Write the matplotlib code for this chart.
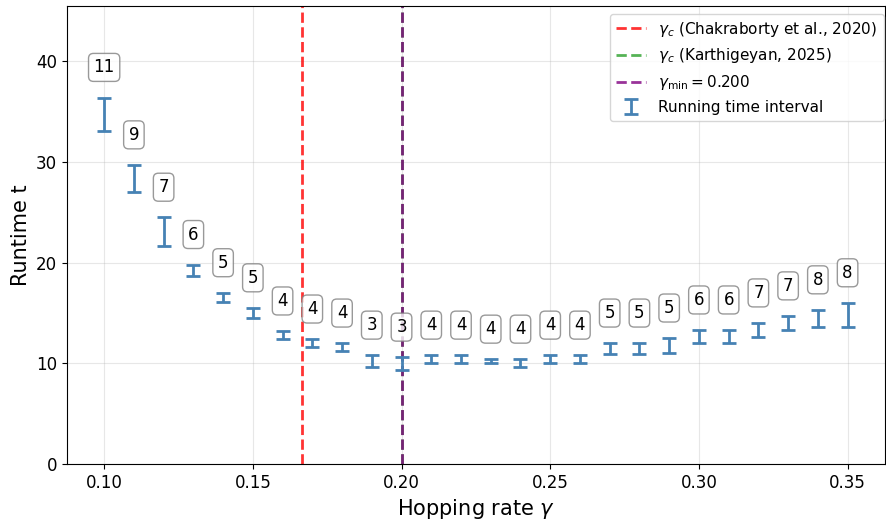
import numpy as np
import matplotlib.pyplot as plt

# Hopping rates and measured runtime intervals
gammas = [0.10, 0.11, 0.12, 0.13, 0.14, 0.15, 0.16, 0.17, 0.18, 0.19, 0.20, 0.21, 0.22,
          0.23, 0.24, 0.25, 0.26, 0.27, 0.28, 0.29, 0.30, 0.31, 0.32, 0.33, 0.34, 0.35]
t_low = [33.1, 27.0, 21.7, 18.7, 16.1, 14.5, 12.4, 11.6, 11.2, 9.6, 9.3, 10.0, 10.0,
         10.0, 9.6, 10.0, 10.0, 10.9, 10.9, 11.0, 12.0, 12.0, 12.6, 13.3, 13.6, 13.6]
t_high = [36.4, 29.7, 24.5, 19.8, 17.0, 15.5, 13.2, 12.4, 12.0, 10.8, 10.6, 10.8, 10.8,
          10.4, 10.4, 10.8, 10.8, 12.0, 12.0, 12.5, 13.3, 13.3, 14.0, 14.7, 15.3, 16.0]
counts = [11, 9, 7, 6, 5, 5, 4, 4, 4, 3, 3, 4, 4, 4, 4, 4, 4, 5, 5, 5, 6, 6, 7, 7, 8, 8]

gamma_c_chak = 1 / 6
gamma_c_karth = 0.200
gamma_min = 0.200

#
# Plot
#
fig = plt.figure(figsize=(8.86, 5.22), dpi=100)
ax = fig.add_axes([0.0756, 0.111, 0.923, 0.8775])

lo = np.array(t_low)
hi = np.array(t_high)
mid = (lo + hi) / 2
ax.errorbar(gammas, mid, yerr=[mid - lo, hi - mid], fmt='none', ecolor='steelblue',
            elinewidth=2, capsize=5, capthick=2, label='Running time interval', zorder=3)

ax.axvline(gamma_c_chak, color='red', linestyle='--', linewidth=2, alpha=0.8,
           label=r'$\gamma_c$ (Chakraborty et al., 2020)')
ax.axvline(gamma_c_karth, color='tab:green', linestyle='--', linewidth=2, alpha=0.8,
           label=r'$\gamma_c$ (Karthigeyan, 2025)')
ax.axvline(gamma_min, color='purple', linestyle='--', linewidth=2, alpha=0.8,
           label=r'$\gamma_{\min} = %.3f$' % gamma_min)

for g, h, n in zip(gammas, t_high, counts):
    ax.text(g, h + 3, str(n), ha='center', va='center', fontsize=12, zorder=4,
            bbox=dict(boxstyle='round,pad=0.3', facecolor='white', edgecolor='gray', alpha=0.8))

ax.set_ylim(0, 45.5)
ax.set_xlabel(r'Hopping rate $\gamma$', fontsize=15)
ax.set_ylabel('Runtime t', fontsize=15)
ax.tick_params(labelsize=12)
ax.grid(True, alpha=0.3)

ax.legend(fontsize=11, loc='upper right', bbox_to_anchor=(1.008, 1.0))

fig.savefig('out.png', dpi=100)
